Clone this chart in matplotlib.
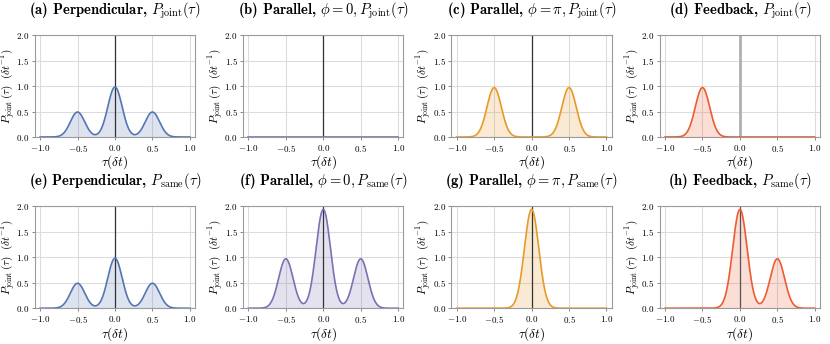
import numpy as np
import matplotlib
matplotlib.use('Agg')
from matplotlib import pyplot as plt

plt.rcParams['font.family'] = 'cmr10'
plt.rcParams['mathtext.fontset'] = 'cm'
plt.rcParams['axes.formatter.use_mathtext'] = True
plt.rcParams['axes.unicode_minus'] = True

# Peak data: (centres, heights) for each panel
titles = [
    r'(a) Perpendicular, $P_{\rm joint}(\tau)$',
    r'(b) Parallel, $\phi = 0, P_{\rm joint}(\tau)$',
    r'(c) Parallel, $\phi = \pi, P_{\rm joint}(\tau)$',
    r'(d) Feedback, $P_{\rm joint}(\tau)$',
    r'(e) Perpendicular, $P_{\rm same}(\tau)$',
    r'(f) Parallel, $\phi = 0, P_{\rm same}(\tau)$',
    r'(g) Parallel, $\phi = \pi, P_{\rm same}(\tau)$',
    r'(h) Feedback, $P_{\rm same}(\tau)$',
]
peak_centres = [
    [-0.5, 0.0, 0.5],
    [],
    [-0.5, 0.5],
    [-0.5],
    [-0.5, 0.0, 0.5],
    [-0.5, 0.0, 0.5],
    [0.0],
    [0.0, 0.5],
]
peak_heights = [
    [0.49, 0.98, 0.49],
    [],
    [0.97, 0.97],
    [0.97],
    [0.49, 0.98, 0.49],
    [0.97, 1.94, 0.97],
    [1.94],
    [1.94, 0.97],
]
peak_width = 0.096
colors = ['#5576b3', '#7d6fb4', '#e69a28', '#ee5b33',
          '#5576b3', '#7d6fb4', '#e69a28', '#ee5b33']
zero_line_colors = ['#333333', '#333333', '#333333', '#b0b0b0',
                    '#333333', '#333333', '#333333', '#555555']
xticks = [-1.0, -0.5, 0.0, 0.5, 1.0]
yticks = [0.0, 0.5, 1.0, 1.5, 2.0]

tau = np.linspace(-1.0, 1.0, 801)

fig, axes = plt.subplots(2, 4, figsize=(8.3, 3.44), dpi=100)
fig.subplots_adjust(left=0.042, right=0.988, top=0.898, bottom=0.104, wspace=0.30, hspace=0.68)

xmin, xmax = -1.07, 1.07
for i, ax in enumerate(axes.flat):
    p = np.zeros_like(tau)
    for c, h in zip(peak_centres[i], peak_heights[i]):
        p += h * np.exp(-(tau - c) ** 2 / (2 * peak_width ** 2))
    ax.plot(tau, p, color=colors[i], lw=1.2, zorder=3)
    ax.fill_between(tau, 0, p, color=colors[i], alpha=0.2, lw=0, zorder=2)

    ax.set_xlim(xmin, xmax)
    ax.set_ylim(0, 2.0)
    ax.set_xticks(xticks)
    ax.set_yticks(yticks)
    ax.grid(True, color='#dcdcdc', lw=0.8, zorder=0)
    ax.set_axisbelow(True)
    for s in ax.spines.values():
        s.set_color('#9a9a9a')
        s.set_linewidth(0.8)
    ax.tick_params(labelsize=6.5, length=2.5, width=0.6, color='#777777', pad=1.5, direction='out')

    # vertical line at tau = 0 with small ticks
    ax.axvline(0, color=zero_line_colors[i], lw=0.9 if i != 3 else 2.0, zorder=2.5)
    sec = ax.secondary_yaxis((0 - xmin) / (xmax - xmin))
    sec.set_yticks(yticks)
    sec.tick_params(labelleft=False, labelright=False, direction='inout', length=3, width=0.6, color='#333333')
    for s in sec.spines.values():
        s.set_visible(False)

    ax.set_title(titles[i], fontsize=10.5, fontfamily='cmb10', pad=15)
    ax.set_xlabel(r'$\tau(\delta t)$', fontsize=9.5, labelpad=0)
    ax.set_ylabel(r'$P_{\rm joint}\,(\tau)\ \ (\delta t^{-1})$', fontsize=8, labelpad=-0.5)

fig.savefig('out.png', dpi=100)
